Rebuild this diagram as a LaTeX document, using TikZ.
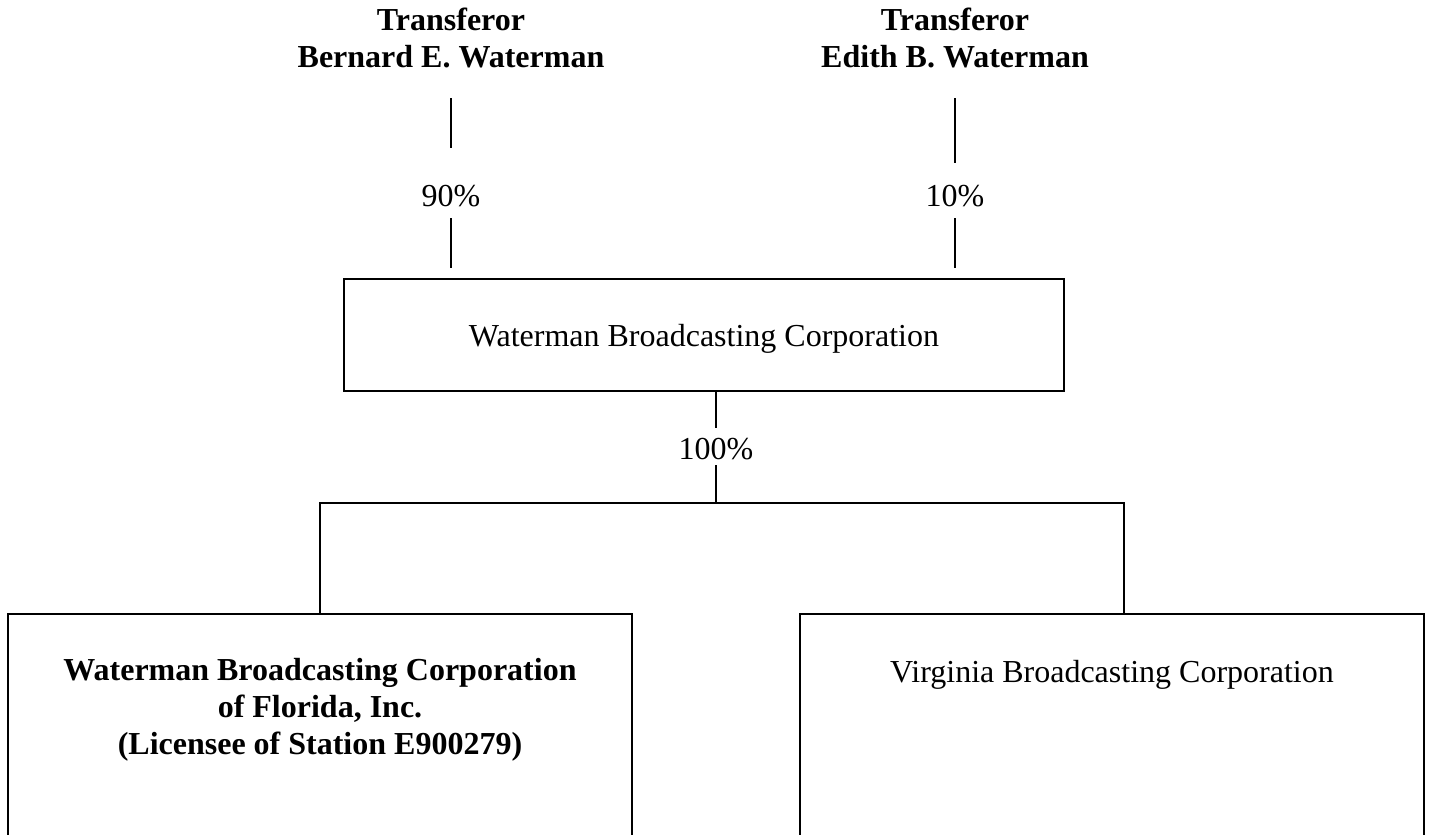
\documentclass[tikz,border=0pt]{standalone}
\usepackage{fontspec}
\setmainfont{Liberation Serif}
\usetikzlibrary{positioning}

\begin{document}
\begin{tikzpicture}[x=0.5pt,y=-0.5pt,
                    font=\fontsize{16}{18.4}\selectfont,
                    owner/.style={font=\fontsize{16}{18.4}\selectfont\bfseries,align=center,anchor=base},
                    share/.style={anchor=base,inner sep=0pt},
                    corp/.style={draw,line width=1pt,inner sep=0pt},
                    link/.style={line width=0.7pt}]

  \useasboundingbox (0,0) rectangle (1430,835);
  \clip (0,0) rectangle (1430,835);

  \node[owner]   (BW) at (451,67)  {Transferor\\Bernard E. Waterman};
  \node[owner]   (EW) at (955,67)  {Transferor\\Edith B. Waterman};
  \node[share]   (P90) at (451,206) {90\%};
  \node[share]   (P10) at (955,206) {10\%};
  \node[corp,minimum width=360pt,minimum height=56pt,text depth=0pt]
                 (WBC) at (704,335) {Waterman Broadcasting Corporation};
  \node[share]   (P100) at (716,459) {100\%};
  \node[corp,minimum width=312pt,minimum height=128pt] (FLbox) at (320,742) {};
  \node[corp,minimum width=312pt,minimum height=128pt] (VAbox) at (1112,742) {};
  \node[owner]   (FL) at (320,754) {Waterman Broadcasting Corporation\\of Florida, Inc.\\(Licensee of Station E900279)};
  \node[share]   (VA) at (1112,682) {Virginia Broadcasting Corporation};

  \coordinate (bw1) at (451,98);  \coordinate (bw2) at (451,148);
  \coordinate (bw3) at (451,218); \coordinate (bw4) at (451,268);
  \coordinate (ew1) at (955,98);  \coordinate (ew2) at (955,163);
  \coordinate (ew3) at (955,218); \coordinate (ew4) at (955,268);
  \coordinate (w1) at (716,391);  \coordinate (w2) at (716,428);
  \coordinate (w3) at (716,465);  \coordinate (fork) at (716,503);
  \coordinate (forkl) at (320,503); \coordinate (forkr) at (1124,503);

  \draw[link] (bw1) -- (bw2) (bw3) -- (bw4);
  \draw[link] (ew1) -- (ew2) (ew3) -- (ew4);
  \draw[link] (w1) -- (w2) (w3) -- (fork);
  \draw[link] (FLbox.north) -- (forkl) -- (forkr) -- (forkr |- VAbox.north);
\end{tikzpicture}
\end{document}
